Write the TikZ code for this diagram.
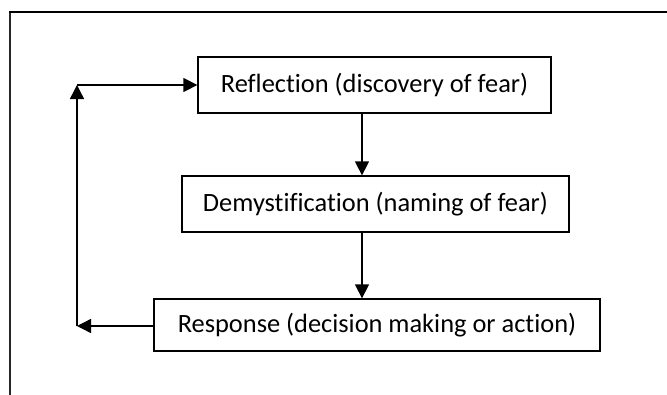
\documentclass[tikz,border=0pt]{standalone}
\usepackage{fontspec}
\setmainfont{Carlito}[Ligatures={NoCommon}]
\usetikzlibrary{arrows.meta}
\begin{document}
\begin{tikzpicture}[x=1pt,y=-1pt,
  stepbox/.style={draw=black, line width=1.3pt, inner sep=0pt, align=center,
    font=\fontsize{26.4}{30}\selectfont},
  arr/.style={line width=1.4pt, -{Triangle[length=14pt,width=14pt]}}]
\useasboundingbox (0,0) rectangle (667,394);
% frame
\draw[line width=1.6pt, black!85] (10,395) -- (10,12);
\draw[line width=2.2pt] (9.2,12) -- (668,12);
% boxes
\node[stepbox, minimum width=353pt, minimum height=56pt] (refl) at (374.5,85) {Reflection (discovery of fear)};
\node[stepbox, minimum width=387pt, minimum height=56pt] (demy) at (375.5,204) {Demystification (naming of fear)};
\node[stepbox, minimum width=446pt, minimum height=52pt] (resp) at (377,325) {Response (decision making or action)};
% helper coordinates
\coordinate (ax) at (362,0);
\coordinate (lt) at (77,85);
\coordinate (lb) at (77,326);
% arrows
\draw[arr] (refl.south -| ax) -- (demy.north -| ax);
\draw[arr] (demy.south -| ax) -- (resp.north -| ax);
\draw[arr] (resp.west |- lb) -- (lb);
\draw[arr] (lb) -- (lt);
\draw[arr] (lt) -- (refl.west |- lt);
\end{tikzpicture}
\end{document}
